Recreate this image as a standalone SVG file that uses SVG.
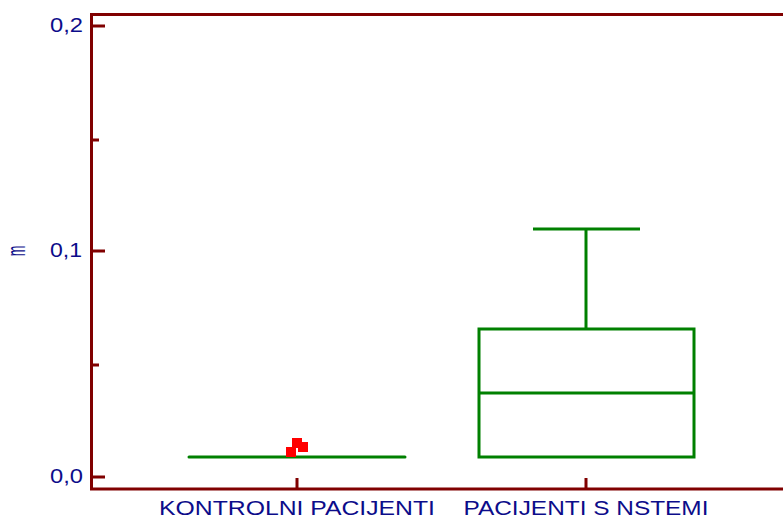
<svg xmlns="http://www.w3.org/2000/svg" width="783" height="519" viewBox="0 0 783 519">
<style>
.ax{stroke:#800000;stroke-width:3;fill:none}
.bx{stroke:#008000;stroke-width:3;fill:none}
.lbl{font-family:"Liberation Sans",Arial,sans-serif;font-size:21px;fill:#0c0c8a}
.out{fill:#ff0000}
</style>
<rect width="783" height="519" fill="#ffffff"/>
<g id="axes">
<path class="ax" d="M91.5,14.5 H783 M91.5,13 V489 H783"/>
<path class="ax" d="M91.5,26 H105 M91.5,140 H99 M91.5,251 H105 M91.5,365 H99 M91.5,477 H105"/>
<path class="ax" d="M297,489 V478 M586,489 V478"/>
</g>
<g id="ytick-labels">
<text class="lbl" x="83" y="32" text-anchor="end" textLength="33" lengthAdjust="spacingAndGlyphs">0,2</text>
<text class="lbl" x="82" y="257" text-anchor="end" textLength="32" lengthAdjust="spacingAndGlyphs">0,1</text>
<text class="lbl" x="83" y="483" text-anchor="end" textLength="33" lengthAdjust="spacingAndGlyphs">0,0</text>
<text class="lbl" transform="translate(25,251) rotate(-90) scale(0.85,1.75)" text-anchor="middle" style="font-size:15px">m</text>
</g>
<g id="xtick-labels">
<text class="lbl" x="297" y="515" text-anchor="middle" textLength="276" lengthAdjust="spacingAndGlyphs">KONTROLNI PACIJENTI</text>
<text class="lbl" x="586" y="515" text-anchor="middle" textLength="245" lengthAdjust="spacingAndGlyphs">PACIJENTI S NSTEMI</text>
</g>
<g id="kontrolni">
<line class="bx" x1="189" y1="457" x2="405" y2="457" stroke-linecap="round"/>
<rect class="out" x="286" y="447" width="10" height="10"/>
<rect class="out" x="292" y="438" width="10" height="10"/>
<rect class="out" x="298" y="442" width="10" height="10"/>
</g>
<g id="nstemi">
<rect class="bx" x="479" y="329" width="215" height="128"/>
<line class="bx" x1="479" y1="393" x2="694" y2="393"/>
<line class="bx" x1="586" y1="329" x2="586" y2="229"/>
<line class="bx" x1="533" y1="229" x2="640" y2="229"/>
</g>
</svg>
